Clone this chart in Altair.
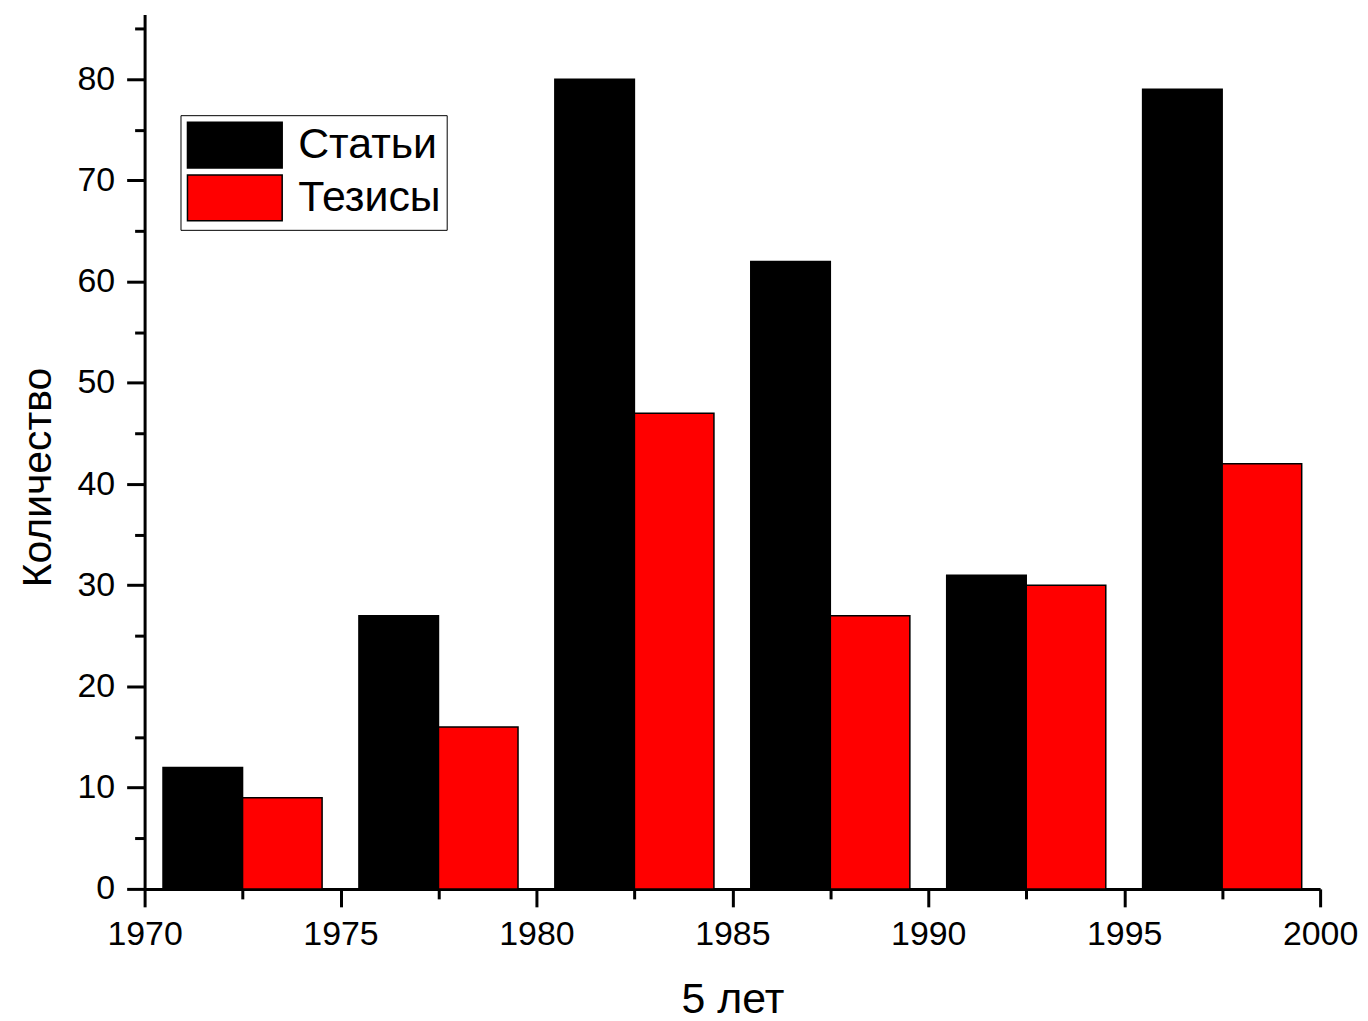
import altair as alt
import pandas as pd

# Data
group_centers = [1972.5, 1977.5, 1982.5, 1987.5, 1992.5, 1997.5]
stati = [12, 27, 80, 62, 31, 79]
tezisy = [9, 16, 47, 27, 30, 42]
series_names = ["Статьи", "Тезисы"]
series_colors = ["#000000", "#ff0000"]
x_ticks = [1970 + 2.5 * i for i in range(13)]
y_ticks = [5 * i for i in range(18)]

bar_w = 2.03
rows = []
for c, s, t in zip(group_centers, stati, tezisy):
    rows.append({"series": series_names[0], "x0": c - bar_w, "x1": c, "v": s})
    rows.append({"series": series_names[1], "x0": c, "x1": c + bar_w, "v": t})
df = pd.DataFrame(rows)

FONT = "Liberation Sans"

common_axis = dict(
    grid=False,
    domainColor="black",
    domainWidth=3,
    tickColor="black",
    tickWidth=3,
    labelColor="black",
    labelFont=FONT,
    labelFontSize=34,
    titleFont=FONT,
    titleFontWeight="normal",
    titleColor="black",
    labelFlush=False,
    labelOverlap=False,
)

chart = (
    alt.Chart(df)
    .mark_bar(stroke="black", strokeWidth=1.5)
    .encode(
        x=alt.X(
            "x0:Q",
            scale=alt.Scale(domain=[1970, 2000], nice=False, zero=False),
            axis=alt.Axis(
                values=x_ticks,
                format="d",
                labelExpr="datum.value % 5 === 0 ? datum.label : ''",
                tickSize={"condition": {"test": "datum.value % 5 === 0", "value": 18}, "value": 10},
                labelPadding=11,
                titleFontSize=43,
                titlePadding=27,
                **common_axis,
            ),
            title="5 лет",
        ),
        x2="x1:Q",
        y=alt.Y(
            "v:Q",
            scale=alt.Scale(domain=[0, 86.4], nice=False),
            axis=alt.Axis(
                values=y_ticks,
                format="d",
                labelExpr="datum.value % 10 === 0 ? datum.label : ''",
                tickSize={"condition": {"test": "datum.value % 10 === 0", "value": 18}, "value": 10},
                labelPadding=12,
                titleFontSize=41,
                titlePadding=18,
                titleY=464,
                **common_axis,
            ),
            title="Количество",
        ),
        y2=alt.datum(0),
        color=alt.Color(
            "series:N",
            scale=alt.Scale(domain=series_names, range=series_colors),
            sort=series_names,
            legend=alt.Legend(
                title=None,
                orient="none",
                legendX=36,
                legendY=101,
                symbolType="M-1,-1H3.13V1H-1Z",
                symbolSize=2116,
                symbolStrokeColor="black",
                symbolStrokeWidth=1.5,
                symbolOpacity=1,
                labelFont=FONT,
                labelFontSize=43,
                labelColor="black",
                labelOffset=64,
                rowPadding=1,
                padding=6,
                strokeColor="black",
                fillColor="white",
            ),
        ),
    )
    .properties(
        width=1179,
        height=877,
        autosize=alt.AutoSizeParams(type="none"),
        padding={"left": 137, "top": 5, "right": 40, "bottom": 131},
    )
    .configure_view(stroke=None)
    .configure_legend(strokeWidth=1)
)

chart.save("out.html", embed_options={"renderer": "svg", "actions": False})
